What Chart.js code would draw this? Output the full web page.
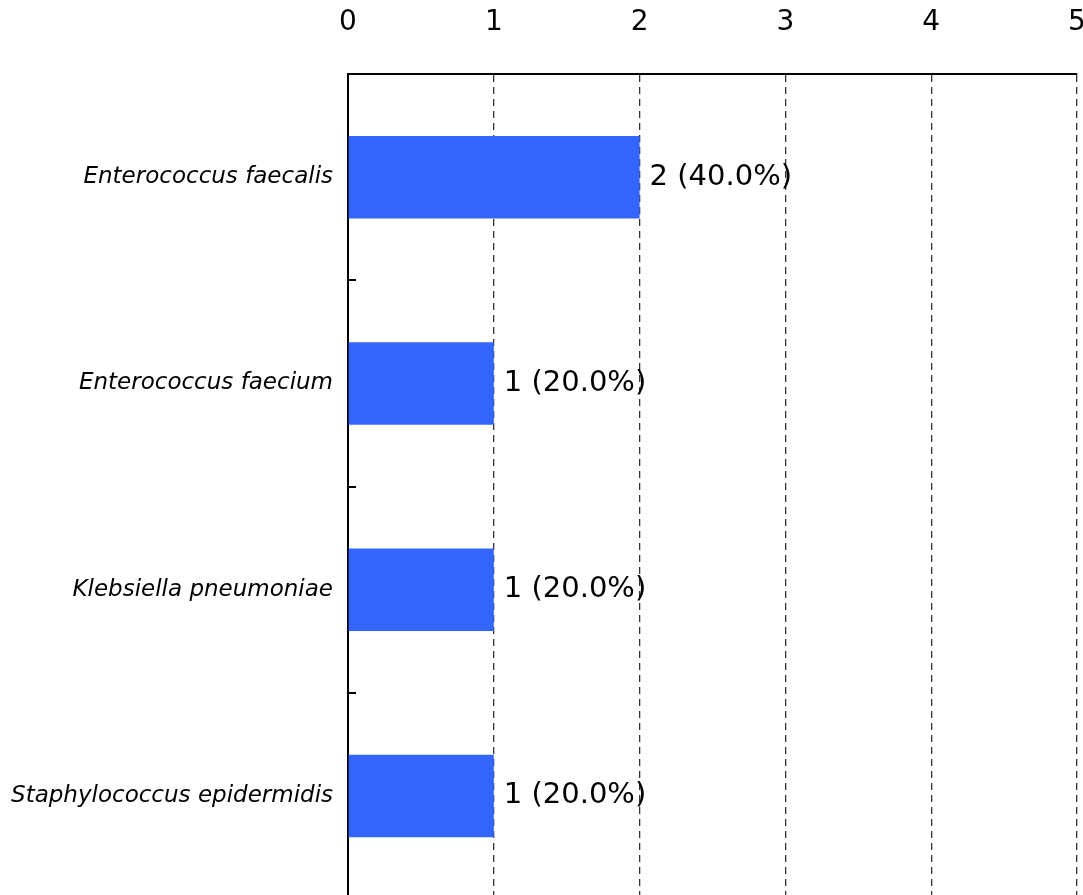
<!DOCTYPE html>
<html>
<head>
<meta charset="utf-8">
<script src="https://cdn.jsdelivr.net/npm/chart.js@4/dist/chart.umd.min.js"></script>
<style>
    html, body { margin: 0; padding: 0; background: #fff; overflow: hidden; }
</style>
</head>
<body>
<canvas id="chart" width="1083" height="900"></canvas>
<script>
const species = ['Enterococcus faecalis', 'Enterococcus faecium', 'Klebsiella pneumoniae', 'Staphylococcus epidermidis'];
const counts = [2, 1, 1, 1];
const axisTicks = [0, 1, 2, 3, 4, 5];

const FONT = '"DejaVu Sans", Verdana, sans-serif';
const total = counts.reduce((a, b) => a + b, 0);

// value labels at the end of each bar, e.g. "2 (40.0%)"
const barLabels = {
    id: 'barLabels',
    afterDatasetsDraw(chart) {
        const ctx = chart.ctx;
        const meta = chart.getDatasetMeta(0);
        ctx.save();
        ctx.font = '29px ' + FONT;
        ctx.fillStyle = '#000';
        ctx.textBaseline = 'middle';
        ctx.textAlign = 'left';
        meta.data.forEach((bar, i) => {
            const text = counts[i] + ' (' + (counts[i] / total * 100).toFixed(1) + '%)';
            ctx.fillText(text, bar.x + 10, bar.y);
        });
        ctx.restore();
    }
};

// short category ticks on the inside of the left axis, between categories
const innerTicks = {
    id: 'innerTicks',
    afterDatasetsDraw(chart) {
        const y = chart.scales.y;
        const ctx = chart.ctx;
        ctx.save();
        ctx.strokeStyle = '#000';
        ctx.lineWidth = 2;
        for (let i = 1; i < species.length; i++) {
            const py = Math.round((y.getPixelForValue(i - 1) + y.getPixelForValue(i)) / 2);
            ctx.beginPath();
            ctx.moveTo(chart.chartArea.left, py);
            ctx.lineTo(chart.chartArea.left + 8, py);
            ctx.stroke();
        }
        ctx.restore();
    }
};

new Chart(document.getElementById('chart').getContext('2d'), {
    type: 'bar',
    data: {
        labels: species,
        datasets: [{
            data: counts,
            backgroundColor: '#3366FF',
            barPercentage: 0.4,
            categoryPercentage: 1.0
        }]
    },
    options: {
        indexAxis: 'y',
        responsive: false,
        animation: false,
        layout: { padding: { right: 6, bottom: 1 } },
        plugins: {
            legend: { display: false },
            tooltip: { enabled: false }
        },
        scales: {
            x: {
                position: 'top',
                min: axisTicks[0],
                max: axisTicks[axisTicks.length - 1],
                afterBuildTicks: scale => { scale.ticks = axisTicks.map(v => ({ value: v })); },
                afterFit: scale => {
                    scale.height = 74;
                    scale.paddingLeft = 0;
                    scale.paddingRight = 0;
                },
                grid: { color: '#333', lineWidth: 1.3, drawTicks: false },
                border: { display: true, color: '#000', width: 2, dash: [7, 5] },
                ticks: { color: '#000', padding: 34, font: { family: FONT, size: 28 } }
            },
            y: {
                afterFit: scale => {
                    scale.width = 348;
                    scale.paddingTop = 0;
                    scale.paddingBottom = 0;
                },
                grid: { display: true, drawOnChartArea: false, drawTicks: false },
                border: { display: true, color: '#000', width: 2 },
                ticks: { color: '#000', padding: 15, font: { family: FONT, size: 23, style: 'italic' } }
            }
        }
    },
    plugins: [barLabels, innerTicks]
});
</script>
</body>
</html>
